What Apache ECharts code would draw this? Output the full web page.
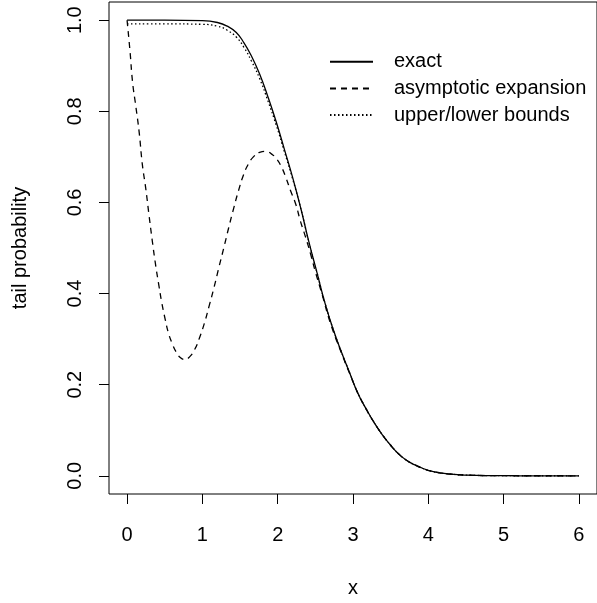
<!DOCTYPE html>
<html>
<head>
<meta charset="utf-8">
<script src="https://cdn.jsdelivr.net/npm/echarts@6/dist/echarts.min.js"></script>
<style>
html,body{margin:0;padding:0;background:#fff;}
#chart{width:597px;height:603px;}
</style>
</head>
<body>
<div id="chart"></div>
<script>
// ---- data ----
const xTicks = [0, 1, 2, 3, 4, 5, 6];
const yTicks = [0, 0.2, 0.4, 0.6, 0.8, 1.0];

const exactX = [0, 0.5, 1.0, 1.2, 1.33, 1.45, 1.55, 1.65, 1.76, 1.87, 1.98, 2.09, 2.2, 2.31, 2.41, 2.52, 2.63, 2.74, 2.85, 2.96, 3.06, 3.17, 3.28, 3.39, 3.5, 3.6, 3.71, 3.82, 3.93, 4.04, 4.15, 4.3, 4.5, 4.8, 5.2, 6.0];
const exactY = [1.0, 1.0, 0.999, 0.995, 0.987, 0.973, 0.951, 0.922, 0.882, 0.832, 0.777, 0.716, 0.654, 0.585, 0.516, 0.447, 0.378, 0.32, 0.27, 0.224, 0.183, 0.148, 0.117, 0.09, 0.067, 0.049, 0.034, 0.024, 0.016, 0.010, 0.0066, 0.0035, 0.0015, 0.0004, 0.0001, 0];

const asymX = [0, 0.04, 0.073, 0.117, 0.16, 0.203, 0.247, 0.29, 0.333, 0.377, 0.42, 0.463, 0.507, 0.55, 0.6, 0.658, 0.71, 0.767, 0.83, 0.897, 0.96, 1.027, 1.09, 1.157, 1.22, 1.287, 1.35, 1.417, 1.48, 1.547, 1.61, 1.677, 1.76, 1.85, 1.92, 1.98, 2.05, 2.11, 2.17, 2.24, 2.3, 2.37, 2.44, 2.5, 2.59, 2.7, 2.85, 2.96, 3.06, 3.17, 3.28, 3.39, 3.5, 3.6, 3.71, 3.82, 3.93, 4.04, 4.15, 4.3, 4.5, 4.8, 5.2, 6.0];
const asymY = [1.0, 0.93, 0.864, 0.81, 0.755, 0.683, 0.632, 0.574, 0.518, 0.465, 0.42, 0.378, 0.343, 0.313, 0.29, 0.27, 0.259, 0.255, 0.261, 0.277, 0.302, 0.335, 0.373, 0.415, 0.458, 0.502, 0.545, 0.588, 0.626, 0.661, 0.684, 0.700, 0.710, 0.712, 0.706, 0.697, 0.678, 0.654, 0.626, 0.596, 0.56, 0.524, 0.485, 0.448, 0.398, 0.335, 0.268, 0.223, 0.183, 0.148, 0.117, 0.09, 0.067, 0.049, 0.034, 0.024, 0.016, 0.010, 0.0066, 0.0035, 0.0015, 0.0004, 0.0001, 0];

const boundX = [0, 0.5, 1.0, 1.2, 1.33, 1.45, 1.55, 1.65, 1.76, 1.87, 1.98, 2.09, 2.2, 2.31, 2.41, 2.52, 2.63, 2.74, 2.85, 2.96, 3.06, 3.17, 3.28, 3.39, 3.5, 3.6, 3.71, 3.82, 3.93, 4.04, 4.15, 4.3, 4.5, 4.8, 5.2, 6.0];
const boundY = [0.992, 0.992, 0.991, 0.987, 0.978, 0.963, 0.941, 0.911, 0.872, 0.823, 0.77, 0.711, 0.651, 0.584, 0.516, 0.447, 0.378, 0.32, 0.27, 0.224, 0.183, 0.148, 0.117, 0.09, 0.067, 0.049, 0.034, 0.024, 0.016, 0.010, 0.0066, 0.0035, 0.0015, 0.0004, 0.0001, 0];

const seriesNames = ['exact', 'asymptotic expansion', 'upper/lower bounds'];
const xTitle = 'x';
const yTitle = 'tail probability';

const zip = (xs, ys) => xs.map((x, i) => [x, ys[i]]);
const FONT = '"Liberation Sans", Arial, Helvetica, sans-serif';
const FS = 20;

const chart = echarts.init(document.getElementById('chart'), null, {renderer: 'canvas'});
chart.setOption({
  animation: false,
  backgroundColor: '#fff',
  grid: {left: 109, right: -11, top: 2, bottom: 104, show: true, borderColor: '#000', borderWidth: 1, backgroundColor: 'transparent'},
  legend: {
    orient: 'vertical', left: 324, top: 46.7,
    itemWidth: 43, itemHeight: 14, itemGap: 6.7,
    itemStyle: {opacity: 0},
    textStyle: {fontSize: FS, color: '#000', fontFamily: FONT, padding: [0, 0, 0, 16]},
    data: seriesNames
  },
  xAxis: {
    type: 'value', min: -0.24, max: 6.24,
    axisLine: {show: false, onZero: false},
    splitLine: {show: false},
    axisTick: {show: true, length: 10, inside: false, customValues: xTicks, lineStyle: {color: '#000', width: 1}},
    axisLabel: {show: true, customValues: xTicks, margin: 31, fontSize: FS, color: '#000', fontFamily: FONT, formatter: v => String(v)},
    name: xTitle, nameLocation: 'middle', nameGap: 84,
    nameTextStyle: {fontSize: FS, color: '#000', fontFamily: FONT}
  },
  yAxis: {
    type: 'value', min: -0.04, max: 1.04,
    axisLine: {show: false, onZero: false},
    splitLine: {show: false},
    axisTick: {show: true, length: 10, inside: false, customValues: yTicks, lineStyle: {color: '#000', width: 1}},
    axisLabel: {show: true, customValues: yTicks, rotate: 90, margin: 24, fontSize: FS, color: '#000', fontFamily: FONT, formatter: v => v.toFixed(1)},
    name: yTitle, nameLocation: 'middle', nameGap: 79, nameRotate: 90,
    nameTextStyle: {fontSize: FS, color: '#000', fontFamily: FONT}
  },
  series: [
    {name: seriesNames[0], type: 'line', data: zip(exactX, exactY), showSymbol: false, symbol: 'none', smooth: 0.5,
     lineStyle: {color: '#000', width: 1.3, type: 'solid'}, itemStyle: {color: '#000'}, z: 3},
    {name: seriesNames[1], type: 'line', data: zip(asymX, asymY), showSymbol: false, symbol: 'none', smooth: 0.5,
     lineStyle: {color: '#000', width: 1.3, type: [6, 5]}, itemStyle: {color: '#000'}, z: 2},
    {name: seriesNames[2], type: 'line', data: zip(boundX, boundY), showSymbol: false, symbol: 'none', smooth: 0.5,
     lineStyle: {color: '#000', width: 1.3, type: [1.5, 2.5]}, itemStyle: {color: '#000'}, z: 2}
  ]
});
</script>
</body>
</html>
